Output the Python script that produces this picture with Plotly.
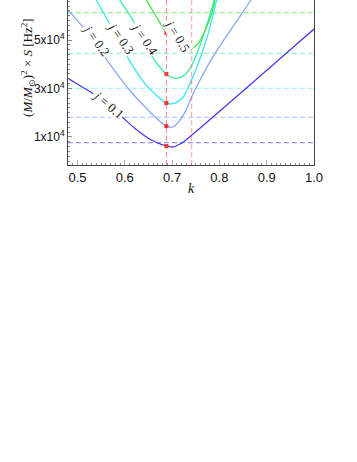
import plotly.graph_objects as go

# ---- data ----
spins = ["0.1", "0.2", "0.3", "0.4", "0.5"]
colors = ["#4a3be8", "#88a8fa", "#36e8ef", "#3eef9e", "#3fe23f"]

k_j01 = [0.47, 0.48, 0.5434, 0.5857, 0.621, 0.656, 0.6878, 0.7026, 0.7168, 0.7238, 1.0, 1.01]
S_j01 = [36000, 34200, 26600, 19800, 13600, 8760, 6300, 5880, 7100, 7900, 54500, 56200]

k_j02 = [0.47, 0.48, 0.5223, 0.5646, 0.6069, 0.6491, 0.6878, 0.7026, 0.7168, 0.7295, 0.7422, 0.7591, 0.7908, 0.8669, 0.875]
S_j02 = [64800, 62400, 52800, 41100, 30100, 21100, 14500, 14200, 17000, 21100, 26900, 33500, 44500, 66500, 69000]

k_j03 = [0.53, 0.5398, 0.5716, 0.6069, 0.6421, 0.6703, 0.6878, 0.697, 0.7062, 0.7238, 0.7379, 0.7555, 0.7766, 0.7944, 0.80]
S_j03 = [70000, 66500, 55500, 42500, 32100, 26600, 24000, 23700, 24000, 26600, 32100, 40400, 52800, 66500, 70000]

k_j04 = [0.58, 0.5893, 0.621, 0.6491, 0.6703, 0.6878, 0.7062, 0.7238, 0.7379, 0.7555, 0.7766, 0.7893, 0.795]
S_j04 = [69500, 66500, 56900, 45900, 39700, 36000, 34200, 35200, 38300, 45900, 58200, 66500, 70000]

k_j05 = [0.638, 0.6456, 0.6667, 0.6878, 0.7132, 0.7379, 0.7555, 0.7732, 0.7838, 0.7908, 0.795]
S_j05 = [69000, 66500, 59600, 53000, 47900, 46300, 48600, 55500, 61000, 66500, 69000]

k_curves = [k_j01, k_j02, k_j03, k_j04, k_j05]
S_curves = [S_j01, S_j02, S_j03, S_j04, S_j05]

# horizontal reference levels (dashed)
S_levels = [7650, 18100, 30100, 44500, 61300]

# vertical reference k values
k_ref_main = 0.688
k_ref_second = 0.7415

# markers at k_ref_main
S_marks = [6300, 14500, 24000, 36000, 53000]

# curve label positions (k, S) and angles
label_k = [0.566, 0.541, 0.5927, 0.642, 0.7115]
label_S = [23600, 50000, 50700, 50700, 52000]
label_angle = [40, 54, 55, 56, 58]

x_ticks = [0.5, 0.6, 0.7, 0.8, 0.9, 1.0]
x_ticktext = ["0.5", "0.6", "0.7", "0.8", "0.9", "1.0"]
y_ticks = [10000, 30000, 50000]
y_ticktext = ["1x10<sup>4</sup>", "3x10<sup>4</sup>", "5x10<sup>4</sup>"]

x_range = [0.48, 1.0]
y_range = [-1550, 66500]

fig = go.Figure()

# dashed horizontal levels
for lvl, c in zip(S_levels, colors):
    fig.add_shape(type="line", xref="paper", x0=0, x1=1, yref="y", y0=lvl, y1=lvl,
                  line=dict(color=c, width=1.2, dash="5px,3px"), opacity=0.55, layer="below")

# vertical red dashed lines
for kv, op in [(k_ref_main, 0.75), (k_ref_second, 0.6)]:
    fig.add_shape(type="line", yref="paper", y0=0, y1=1, xref="x", x0=kv, x1=kv,
                  line=dict(color="#ff5555", width=1, dash="5px,3px"), opacity=op)

for kk, ss, c in zip(k_curves, S_curves, colors):
    fig.add_trace(go.Scatter(x=kk, y=ss, mode="lines",
                             line=dict(color=c, width=1.3, shape="spline", smoothing=0.8),
                             showlegend=False, hoverinfo="skip"))

fig.add_trace(go.Scatter(x=[k_ref_main] * len(S_marks), y=S_marks, mode="markers",
                         marker=dict(color="#ee3333", size=4, symbol="square"),
                         showlegend=False, hoverinfo="skip"))

for s, kx, sy, ang in zip(spins, label_k, label_S, label_angle):
    fig.add_annotation(x=kx, y=sy, xref="x", yref="y", text="<i>j</i> = " + s,
                       showarrow=False, textangle=ang, bgcolor="white", borderpad=0,
                       font=dict(family="Liberation Serif", size=13, color="#222"))

# axis titles as annotations
fig.add_annotation(xref="paper", yref="paper", x=-0.163, y=0.594, xanchor="center", yanchor="middle",
                   text="(<i>M</i>/<i>M</i><sub>\u2299</sub>)<sup>2</sup> \u00d7 <i>S</i> [Hz<sup>2</sup>]",
                   textangle=-90, showarrow=False,
                   font=dict(family="Liberation Serif", size=13, color="#111"))
fig.add_annotation(xref="paper", yref="paper", x=0.5, y=-0.145, xanchor="center", yanchor="middle",
                   text="<i>k</i>", showarrow=False,
                   font=dict(family="Liberation Serif", size=14, color="#111"))

fig.update_xaxes(range=x_range, tickvals=x_ticks, ticktext=x_ticktext,
                 showline=True, linecolor="#444", linewidth=1, mirror=False,
                 ticks="inside", ticklen=5, tickcolor="#aaa", showgrid=False, zeroline=False,
                 tickfont=dict(family="Liberation Sans", size=13, color="#111"),
                 minor=dict(tick0=0.48, dtick=0.01, ticks="inside", ticklen=2, tickcolor="#888"))
fig.update_yaxes(range=y_range, tickvals=y_ticks, ticktext=y_ticktext,
                 showline=True, linecolor="#444", linewidth=1, mirror=True,
                 ticks="inside", ticklen=4, tickcolor="#888", showgrid=False, zeroline=False,
                 tickfont=dict(family="Liberation Sans", size=12, color="#111"),
                 minor=dict(tick0=0, dtick=2000, ticks="inside", ticklen=2, tickcolor="#888"))

fig.update_layout(width=357, height=462, margin=dict(l=68, r=43, t=0, b=297),
                  plot_bgcolor="white", paper_bgcolor="white")

fig.write_html("out.html", config={"displayModeBar": False},
               post_script="document.body.style.margin='0px';")
